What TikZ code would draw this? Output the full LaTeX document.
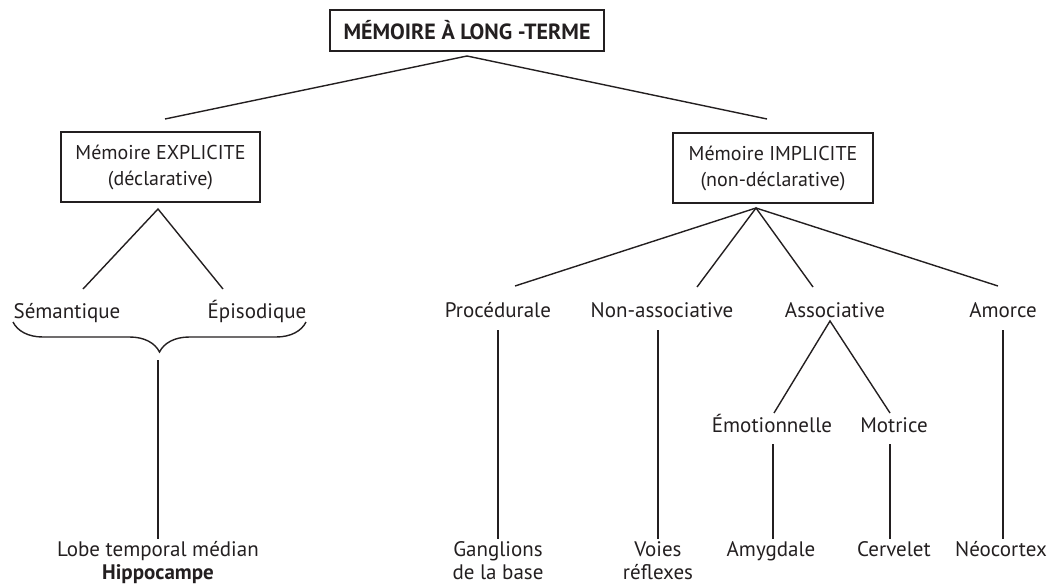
\documentclass[tikz,border=0pt]{standalone}
\usepackage{fontspec}
\setmainfont{PT Sans}
\usetikzlibrary{decorations.pathreplacing,calc}
\definecolor{ink}{HTML}{231F20}
\begin{document}
\begin{tikzpicture}[x=1pt,y=-1pt,
  every node/.style={text=ink},
  box/.style={draw=ink, line width=2pt, inner sep=0pt, align=center,
    font=\fontsize{20}{26}\selectfont},
  lbl/.style={inner sep=0pt, font=\fontsize{21}{25}\selectfont, anchor=base},
  leaf/.style={inner sep=0pt, font=\fontsize{21}{23}\selectfont, anchor=north, align=center},
  link/.style={draw=ink, line width=1.4pt},
  bracestyle/.style={draw=ink, line width=1.4pt,
    decorate, decoration={brace, mirror, amplitude=30pt}}
  ]
\useasboundingbox (0,0) rectangle (1054,586);

% boxes
\node[box, minimum width=274pt, minimum height=41pt,
  font=\bfseries\fontsize{22}{24}\selectfont] (ltm) at (467,30.5) {MÉMOIRE À LONG -TERME};
\node[box, minimum width=199pt, minimum height=70pt] (expl) at (160.5,167) {Mémoire EXPLICITE\\(déclarative)};
\node[box, minimum width=200pt, minimum height=70pt] (impl) at (773,168) {Mémoire IMPLICITE\\(non-déclarative)};

% category labels
\node[lbl] (sem) at (67,318) {Sémantique};
\node[lbl] (epi) at (257,318) {Épisodique};
\node[lbl] (proc) at (498,317) {Procédurale};
\node[lbl] (nonas) at (662,317) {Non-associative};
\node[lbl] (assoc) at (835,317) {Associative};
\node[lbl] (amorce) at (1003,317) {Amorce};
\node[lbl] (emo) at (772,432) {Émotionnelle};
\node[lbl] (mot) at (894,432) {Motrice};

% leaves
\node[leaf] (lobe) at (158,541) {Lobe temporal médian\\\textbf{Hippocampe}};
\node[leaf] (gang) at (498,541) {Ganglions\\de la base};
\node[leaf] (voies) at (658,541) {Voies\\réflexes};
\node[leaf] (amyg) at (771,541) {Amygdale};
\node[leaf] (cerv) at (894,541) {Cervelet};
\node[leaf] (neo) at (1001,541) {Néocortex};

% fork points and line ends
\coordinate (ltmF) at (467,56);
\coordinate (explIn) at (165,119);
\coordinate (implIn) at (767,119);
\coordinate (explF) at (158,209);
\coordinate (semIn) at (83,289);
\coordinate (epiIn) at (223,289);
\coordinate (braceL) at (13,322);
\coordinate (braceR) at (306,322);
\coordinate (braceTip) at (158,360);
\coordinate (implF) at (756,208);
\coordinate (procIn) at (515,286);
\coordinate (nonasIn) at (697,287);
\coordinate (assocIn) at (813,287);
\coordinate (amorceIn) at (998,286);
\coordinate (assocF) at (830,321);
\coordinate (emoIn) at (774,413);
\coordinate (motIn) at (890,413);

% connectors
\draw[link] (explIn) -- (ltmF) -- (implIn);
\draw[link] (semIn) -- (explF) -- (epiIn);
\draw[bracestyle] (braceL) -- (braceR);
\draw[link, shorten >=2pt] (braceTip) -- (lobe.north);
\draw[link] (procIn) -- (implF) -- (amorceIn);
\draw[link] (nonasIn) -- (implF) -- (assocIn);
\draw[link] (emoIn) -- (assocF) -- (motIn);
\draw[link, shorten <=13pt, shorten >=2pt] (proc.south) -- (gang.north);
\draw[link, shorten <=13pt, shorten >=2pt] (nonas.south -| voies.north) -- (voies.north);
\draw[link, shorten <=13pt, shorten >=2pt] (amorce.south) -- (amorce.south |- neo.north);
\draw[link, shorten <=12pt, shorten >=2pt] ([xshift=1pt]emo.south) -- ([xshift=1pt]emo.south |- amyg.north);
\draw[link, shorten <=12pt, shorten >=2pt] (mot.south -| motIn) -- (motIn |- cerv.north);
\end{tikzpicture}
\end{document}
